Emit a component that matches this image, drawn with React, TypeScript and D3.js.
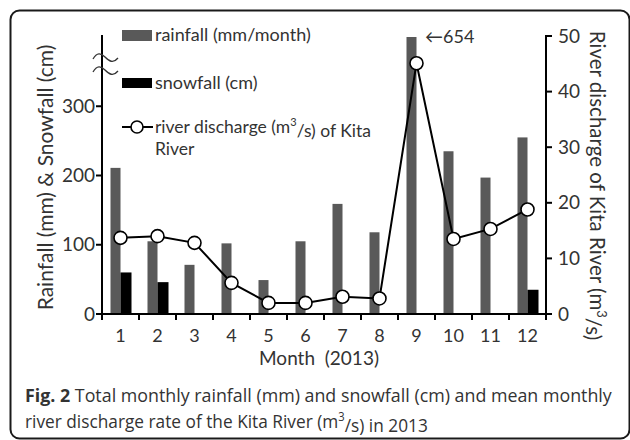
import { useLayoutEffect, useRef, useState } from 'react';
import * as d3 from 'd3';

// monthly values (2013)
const months = ['1', '2', '3', '4', '5', '6', '7', '8', '9', '10', '11', '12'];
const rainfall = [211, 105, 71, 102, 49, 105, 159, 118, 654, 235, 197, 255];
const snowfall = [60, 46, 0, 0, 0, 0, 0, 0, 0, 0, 0, 35];
const discharge = [13.7, 14.0, 12.8, 5.6, 2.0, 2.0, 3.1, 2.8, 45.1, 13.5, 15.3, 18.8];
const leftTicks = [0, 100, 200, 300];
const rightTicks = [0, 10, 20, 30, 40, 50];

const W = 630;
const H = 440;
const FONT = 'Lato, "Open Sans", sans-serif';
const CAP_FONT = '"Open Sans", sans-serif';
const INK = '#333';

export default function App() {
  const cap1 = useRef<SVGTextElement>(null);
  const cap2 = useRef<SVGTextElement>(null);
  const [capScale, setCapScale] = useState<[number, number]>([1, 1]);

  // squeeze the caption lines horizontally (the original uses a condensed face)
  useLayoutEffect(() => {
    const w1 = cap1.current?.getBBox().width ?? 0;
    const w2 = cap2.current?.getBBox().width ?? 0;
    if (w1 > 0 && w2 > 0) setCapScale([588 / w1, 403 / w2]);
  }, []);

  const x = d3.scaleBand<string>().domain(months).range([102, 546]).padding(0);
  const yL = d3.scaleLinear().domain([0, 400]).range([314, 37]).clamp(true);
  const yR = d3.scaleLinear().domain([0, 50]).range([314, 36]);
  const cx = (m: string) => (x(m) ?? 0) + x.bandwidth() / 2;
  const barW = 10;

  const line = d3
    .line<number>()
    .x((_, i) => cx(months[i]))
    .y((d) => yR(d));

  const boundaries = [...months.map((m) => x(m) ?? 0), 546];

  // axis break squiggles on the left axis
  const squiggle = (y0: number) =>
    `M93,${y0 + 2} C97,${y0 - 5} 101,${y0 - 4} 105,${y0} S113,${y0 + 7} 118,${y0 + 1}`;

  return (
    <svg
      width={W}
      height={H}
      style={{ position: 'absolute', left: 0, top: 0, background: '#fff' }}
      fontFamily={FONT}
    >
      <rect x={10.5} y={10.5} width={619} height={428} rx={9} fill="none" stroke="#1a1a1a" strokeWidth={2} />

      {/* bars */}
      {months.map((m, i) => (
        <g key={m}>
          <rect x={cx(m) - barW} y={yL(rainfall[i])} width={barW} height={314 - yL(rainfall[i])} fill="#595959" />
          {snowfall[i] > 0 && (
            <rect x={cx(m)} y={yL(snowfall[i])} width={barW + 1} height={314 - yL(snowfall[i])} fill="#000" />
          )}
        </g>
      ))}

      {/* discharge line */}
      <path d={line(discharge) ?? ''} fill="none" stroke="#000" strokeWidth={2} />
      {discharge.map((d, i) => (
        <circle key={i} cx={cx(months[i])} cy={yR(d)} r={6.5} fill="#fff" stroke="#000" strokeWidth={1.6} />
      ))}

      {/* x axis */}
      <line x1={102} x2={546} y1={314} y2={314} stroke="#000" strokeWidth={2} />
      {boundaries.map((b, i) => (
        <line key={i} x1={b} x2={b} y1={314} y2={320} stroke="#000" strokeWidth={2} />
      ))}
      {months.map((m) => (
        <text key={m} x={cx(m)} y={342} textAnchor="middle" fontSize={18} fill={INK}>
          {m}
        </text>
      ))}
      <text x={319} y={365} textAnchor="middle" fontSize={19} fill={INK} style={{ whiteSpace: 'pre' }}>
        {'Month  (2013)'}
      </text>

      {/* left axis */}
      <line x1={102} x2={102} y1={35} y2={314} stroke="#000" strokeWidth={2} />
      {leftTicks.map((t) => (
        <g key={t}>
          <line x1={96} x2={102} y1={yL(t)} y2={yL(t)} stroke="#000" strokeWidth={2} />
          <text x={95} y={yL(t)} dy="0.35em" textAnchor="end" fontSize={19} fill={INK}>
            {t}
          </text>
        </g>
      ))}
      <path d={squiggle(57)} fill="none" stroke={INK} strokeWidth={1.3} />
      <path d={squiggle(70)} fill="none" stroke={INK} strokeWidth={1.3} />
      <text
        transform={`translate(46,${(45 + 310) / 2}) rotate(-90)`}
        textAnchor="middle"
        dy="0.35em"
        fontSize={21}
        fill={INK}
      >
        Rainfall (mm) &amp; Snowfall (cm)
      </text>

      {/* right axis */}
      <line x1={546} x2={546} y1={35} y2={314} stroke="#000" strokeWidth={2} />
      {rightTicks.map((t) => (
        <g key={t}>
          <line x1={546} x2={552} y1={yR(t)} y2={yR(t)} stroke="#000" strokeWidth={2} />
          <text x={558} y={yR(t)} dy="0.35em" textAnchor="start" fontSize={19} fill={INK}>
            {t}
          </text>
        </g>
      ))}
      <text
        transform={`translate(597,${(28 + 343) / 2}) rotate(90)`}
        textAnchor="middle"
        dy="0.35em"
        fontSize={20.5}
        fill={INK}
      >
        River discharge of Kita River (m
        <tspan fontSize={13} dy="-0.55em">3</tspan>
        <tspan dy="0.55em">/s)</tspan>
      </text>

      {/* annotation for clipped bar */}
      <text x={425} y={43} fontSize={18} fill={INK}>
        ←654
      </text>

      {/* legend */}
      <rect x={122} y={30} width={30} height={11} fill="#595959" />
      <text x={155} y={41} fontSize={18} fill={INK}>
        rainfall (mm/month)
      </text>
      <rect x={122} y={78} width={30} height={10} fill="#000" />
      <text x={155} y={89} fontSize={18} fill={INK}>
        snowfall (cm)
      </text>
      <line x1={122} x2={153} y1={127} y2={127} stroke="#000" strokeWidth={2} />
      <circle cx={137} cy={127} r={6} fill="#fff" stroke="#000" strokeWidth={1.6} />
      <text x={155} y={133} fontSize={17.5} fill={INK}>
        river discharge (m
        <tspan fontSize={11} dy="-0.6em">3</tspan>
        <tspan dy="0.6em">/s) of Kita</tspan>
      </text>
      <text x={155} y={155} fontSize={17.5} fill={INK}>
        River
      </text>

      {/* caption */}
      <g fontFamily={CAP_FONT} fontSize={18.5} fill={INK}>
        <text ref={cap1} transform={`translate(25,402) scale(${capScale[0]},1)`}>
          <tspan fontWeight="bold">Fig. 2</tspan> Total monthly rainfall (mm) and snowfall (cm) and mean monthly
        </text>
        <text ref={cap2} transform={`translate(25,428) scale(${capScale[1]},1)`}>
          river discharge rate of the Kita River (m
          <tspan fontSize={12} dy="-0.6em">3</tspan>
          <tspan dy="0.6em">/s) in 2013</tspan>
        </text>
      </g>
    </svg>
  );
}
